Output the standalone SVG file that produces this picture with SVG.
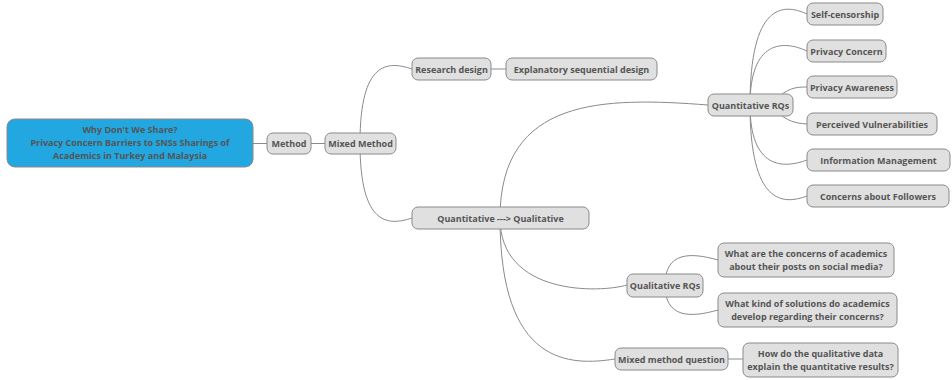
<svg xmlns="http://www.w3.org/2000/svg" width="952" height="380" viewBox="0 0 952 380">
<style>
.n{fill:#e0e0e0;stroke:#8a8a8a;stroke-width:1}
.r{fill:#22a7e0;stroke:#8a8a8a;stroke-width:1}
.t{font-family:"Open Sans","Noto Sans",sans-serif;font-weight:bold;font-size:9px;fill:#555;text-anchor:middle;dominant-baseline:central}
.c{fill:none;stroke:#8a8a8a;stroke-width:1}
</style>
<rect width="952" height="380" fill="#ffffff"/>
<g id="connectors">
<path class="c" d="M253,143.5 H267"/>
<path class="c" d="M311,143.5 H325"/>
<path class="c" d="M360,143 C360,60 388,61 412,69"/>
<path class="c" d="M360,143 C360,226 388,226 412,218"/>
<path class="c" d="M491,69 H506"/>
<path class="c" d="M500,218 C500,97 604,97 708,105"/>
<path class="c" d="M500,218 C500,296 600,293 627,285"/>
<path class="c" d="M500,218 C500,366 570,366 615,359"/>
<path class="c" d="M750,105 C750,3 783,3 807,14"/>
<path class="c" d="M750,105 C750,40 783,40 807,51"/>
<path class="c" d="M775,100 C788,88 795,87 807,87"/>
<path class="c" d="M775,110 C788,122 795,123 807,124"/>
<path class="c" d="M750,105 C750,169 783,169 807,160"/>
<path class="c" d="M750,105 C750,205 783,205 807,196"/>
<path class="c" d="M665,285 C665,252 690,252 718,260"/>
<path class="c" d="M665,285 C665,318 690,318 718,310"/>
<path class="c" d="M728,359 H743"/>
</g>
<g id="root">
<rect class="r" x="7" y="119" width="246" height="48" rx="8"/>
<text class="t" x="130" y="129">Why Don't We Share?</text>
<text class="t" x="130" y="142">Privacy Concern Barriers to SNSs Sharings of</text>
<text class="t" x="130" y="155">Academics in Turkey and Malaysia</text>
</g>
<g id="method">
<rect class="n" x="267" y="133" width="44" height="21" rx="6"/>
<text class="t" x="289" y="143.5">Method</text>
</g>
<g id="mixed-method">
<rect class="n" x="325" y="133" width="71" height="21" rx="6"/>
<text class="t" x="360.5" y="143.5">Mixed Method</text>
</g>
<g id="research-design">
<rect class="n" x="412" y="58" width="79" height="22" rx="6"/>
<text class="t" x="451.5" y="69">Research design</text>
</g>
<g id="explanatory">
<rect class="n" x="506" y="58" width="151" height="22" rx="6"/>
<text class="t" x="581.5" y="69">Explanatory sequential design</text>
</g>
<g id="quant-qual">
<rect class="n" x="412" y="207" width="177" height="22" rx="6"/>
<text class="t" x="500.5" y="218">Quantitative ---&gt; Qualitative</text>
</g>
<g id="quant-rqs">
<rect class="n" x="708" y="94" width="85" height="22" rx="6"/>
<text class="t" x="750.5" y="105">Quantitative RQs</text>
</g>
<g id="self-censorship">
<rect class="n" x="807" y="3" width="76" height="22" rx="6"/>
<text class="t" x="845" y="14">Self-censorship</text>
</g>
<g id="privacy-concern">
<rect class="n" x="807" y="40" width="79" height="22" rx="6"/>
<text class="t" x="846.5" y="51">Privacy Concern</text>
</g>
<g id="privacy-awareness">
<rect class="n" x="807" y="76" width="90" height="22" rx="6"/>
<text class="t" x="852" y="87">Privacy Awareness</text>
</g>
<g id="perceived-vulnerabilities">
<rect class="n" x="807" y="113" width="130" height="22" rx="6"/>
<text class="t" x="872" y="124">Perceived Vulnerabilities</text>
</g>
<g id="information-management">
<rect class="n" x="807" y="149" width="143" height="22" rx="6"/>
<text class="t" x="878.5" y="160">Information Management</text>
</g>
<g id="concerns-followers">
<rect class="n" x="807" y="185" width="142" height="22" rx="6"/>
<text class="t" x="878" y="196">Concerns about Followers</text>
</g>
<g id="qual-rqs">
<rect class="n" x="627" y="274" width="76" height="23" rx="6"/>
<text class="t" x="665" y="285.5">Qualitative RQs</text>
</g>
<g id="what-are">
<rect class="n" x="718" y="243" width="176" height="34" rx="6"/>
<text class="t" x="806" y="253.5">What are the concerns of academics</text>
<text class="t" x="806" y="266.5">about their posts on social media?</text>
</g>
<g id="what-kind">
<rect class="n" x="718" y="293" width="179" height="34" rx="6"/>
<text class="t" x="807.5" y="303.5">What kind of solutions do academics</text>
<text class="t" x="807.5" y="316.5">develop regarding their concerns?</text>
</g>
<g id="mixed-question">
<rect class="n" x="615" y="348" width="113" height="22" rx="6"/>
<text class="t" x="671.5" y="359">Mixed method question</text>
</g>
<g id="how-do">
<rect class="n" x="743" y="343" width="155" height="34" rx="6"/>
<text class="t" x="820.5" y="353.5">How do the qualitative data</text>
<text class="t" x="820.5" y="366.5">explain the quantitative results?</text>
</g>
</svg>
